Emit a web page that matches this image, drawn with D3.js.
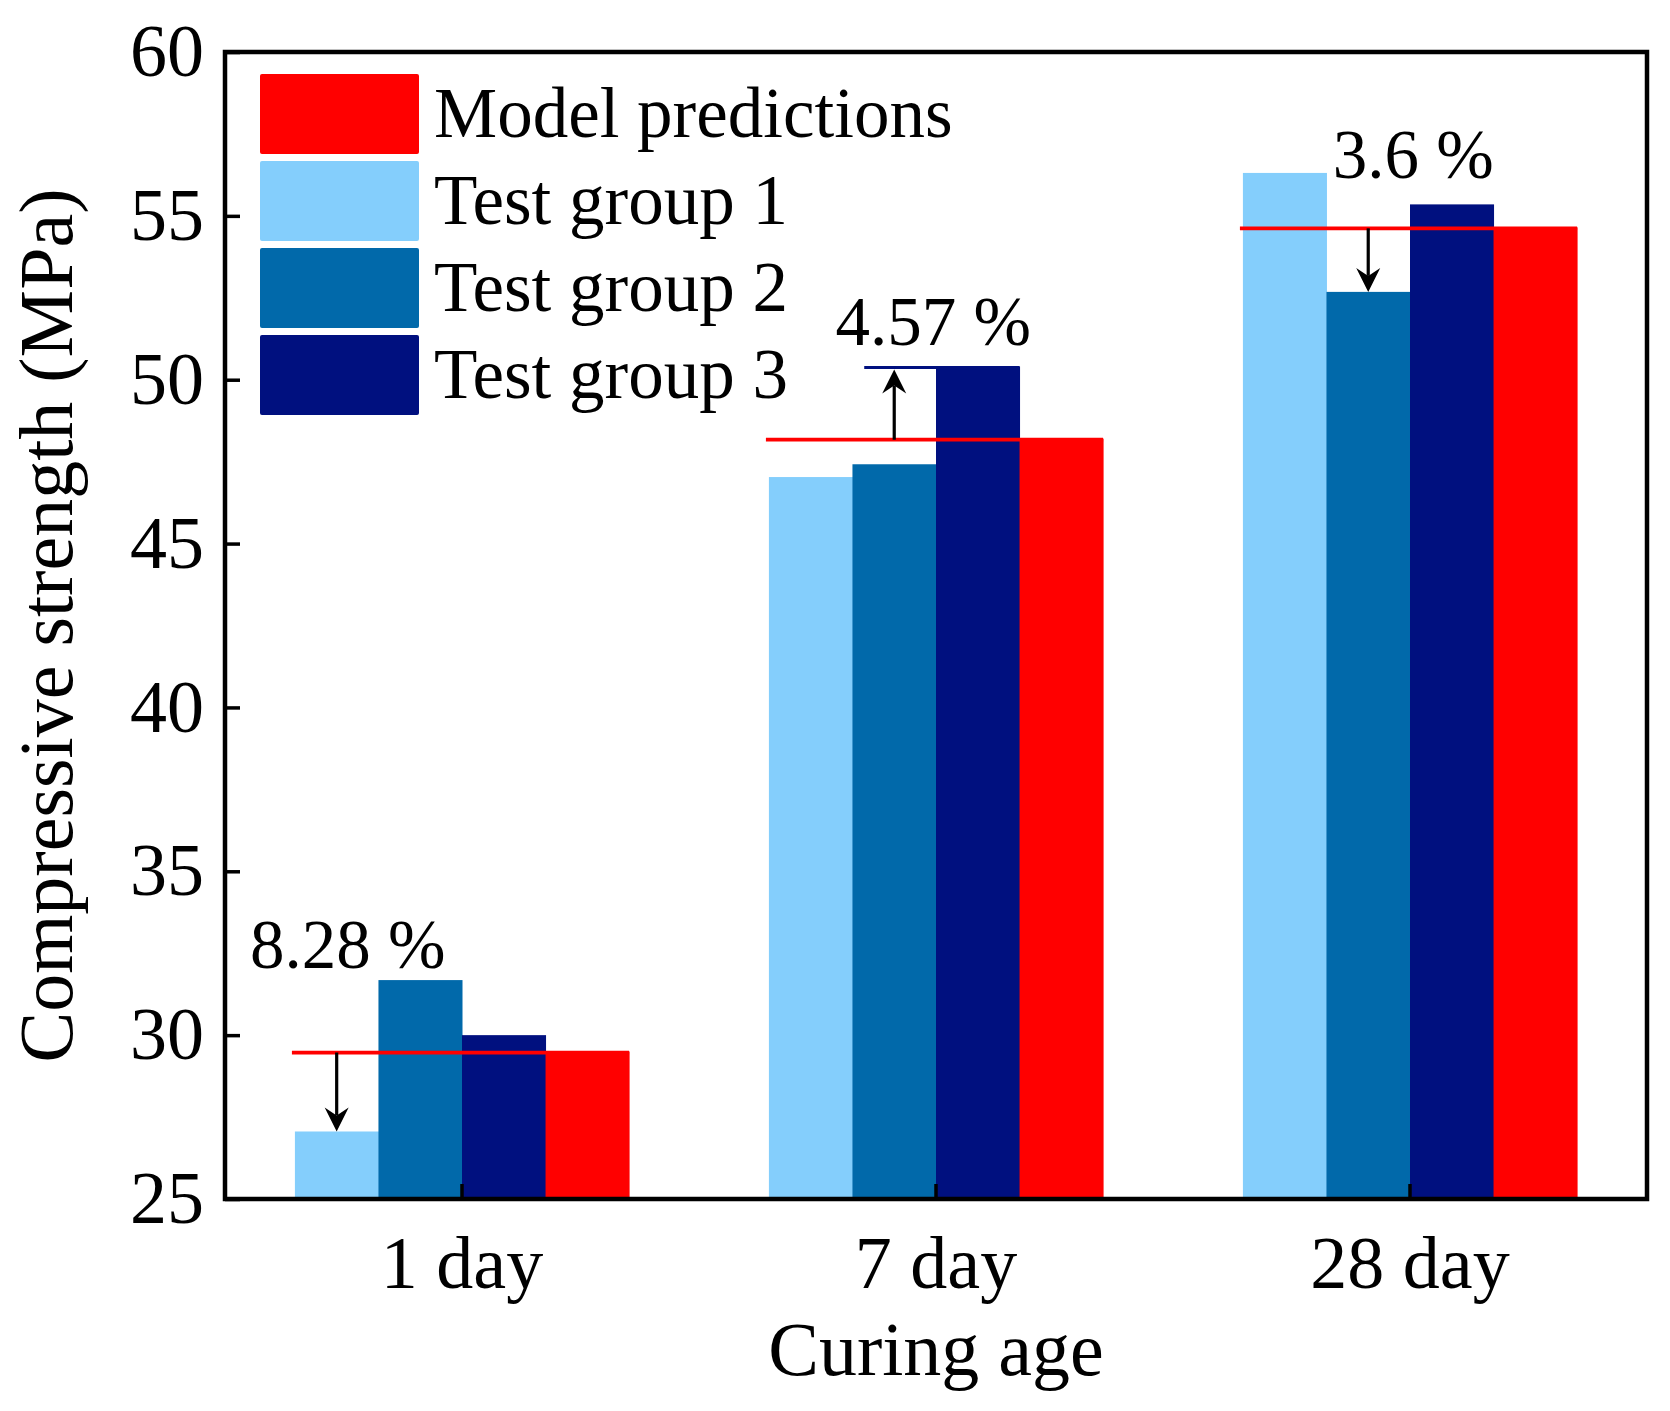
<!DOCTYPE html>
<html>
<head>
<meta charset="utf-8">
<script src="https://cdn.jsdelivr.net/npm/d3@7"></script>
<style>
  body { margin: 0; background: #fff; }
  text { font-family: 'Liberation Serif', 'Times New Roman', serif; fill: #000; }
</style>
</head>
<body>
<svg id="chart" width="1670" height="1411"></svg>
<script>
// chart values
const categories = ['1 day', '7 day', '28 day'];
const seriesNames = ['Test group 1', 'Test group 2', 'Test group 3', 'Model predictions'];
const testGroup1 = [27.06, 47.03, 56.31];
const testGroup2 = [31.68, 47.42, 52.68];
const testGroup3 = [30.0, 50.4, 55.35];
const modelPredictions = [29.5, 48.2, 54.65];
const yTicks = [25, 30, 35, 40, 45, 50, 55, 60];
const legendOrder = ['Model predictions', 'Test group 1', 'Test group 2', 'Test group 3'];
// deviation arrows: from the model value to a test group, drawn over bar "at"
const deviations = [
  { cat: '1 day', to: 'Test group 1', at: 'Test group 1', label: '8.28 %' },
  { cat: '7 day', to: 'Test group 3', at: 'Test group 2', label: '4.57 %' },
  { cat: '28 day', to: 'Test group 2', at: 'Test group 2', label: '3.6 %' }
];

const values = {
  'Test group 1': testGroup1,
  'Test group 2': testGroup2,
  'Test group 3': testGroup3,
  'Model predictions': modelPredictions
};
const color = d3.scaleOrdinal()
  .domain(seriesNames)
  .range(['#84cefc', '#0169aa', '#00107f', '#ff0000']);

const svg = d3.select('#chart');
const margin = { left: 225, right: 23, top: 52, bottom: 212 };
const W = +svg.attr('width'), H = +svg.attr('height');

const x0 = d3.scaleBand()
  .domain(categories)
  .range([margin.left, W - margin.right])
  .paddingInner(0.295)
  .paddingOuter(0.1475);
const x1 = d3.scaleBand()
  .domain(seriesNames)
  .range([0, x0.bandwidth()]);
const y = d3.scaleLinear()
  .domain([25, 60])
  .range([H - margin.bottom, margin.top]);

// bars
const groups = svg.append('g')
  .selectAll('g')
  .data(categories)
  .join('g')
  .attr('transform', d => 'translate(' + x0(d) + ',0)');

groups.selectAll('rect')
  .data((c, i) => seriesNames.map(s => ({ s: s, v: values[s][i] })))
  .join('rect')
  .attr('x', d => x1(d.s))
  .attr('y', d => y(d.v))
  .attr('width', x1.bandwidth() + 0.5)
  .attr('height', d => y(25) - y(d.v))
  .attr('fill', d => color(d.s));

// model reference lines across each group
svg.append('g')
  .selectAll('line')
  .data(categories)
  .join('line')
  .attr('x1', d => x0(d) - 3)
  .attr('x2', d => x0(d) + x0.bandwidth())
  .attr('y1', (d, i) => y(modelPredictions[i]) + 1)
  .attr('y2', (d, i) => y(modelPredictions[i]) + 1)
  .attr('stroke', '#ff0000')
  .attr('stroke-width', 3.8);

// deviation arrows and labels
const labelOffsets = [[11, -85], [39, -95], [45, -50]];
const ann = svg.append('g');
deviations.forEach(function (d, k) {
  const i = categories.indexOf(d.cat);
  const ax = x0(d.cat) + x1(d.at) + x1.bandwidth() / 2;
  const yFrom = y(modelPredictions[i]) + 1;
  const yTo = y(values[d.to][i]);
  const dir = yTo > yFrom ? 1 : -1;
  if (d.at !== d.to) {
    ann.append('line')
      .attr('x1', ax - 30)
      .attr('x2', x0(d.cat) + x1(d.to) + x1.bandwidth())
      .attr('y1', yTo + 1)
      .attr('y2', yTo + 1)
      .attr('stroke', color(d.to))
      .attr('stroke-width', 3);
  }
  const tip = yTo + dir * (d.at !== d.to ? -3 : 0);
  const hl = 24, hw = 12, notch = 16;
  ann.append('line')
    .attr('x1', ax).attr('x2', ax)
    .attr('y1', yFrom)
    .attr('y2', tip - dir * notch)
    .attr('stroke', '#000')
    .attr('stroke-width', 3.2);
  ann.append('path')
    .attr('d', 'M' + ax + ',' + tip +
      'L' + (ax - hw) + ',' + (tip - dir * hl) +
      'L' + ax + ',' + (tip - dir * notch) +
      'L' + (ax + hw) + ',' + (tip - dir * hl) + 'Z')
    .attr('fill', '#000');
  ann.append('text')
    .attr('x', ax + labelOffsets[k][0])
    .attr('y', yFrom + labelOffsets[k][1])
    .attr('text-anchor', 'middle')
    .attr('font-size', 69)
    .text(d.label);
});

// axes
const yAxis = svg.append('g')
  .attr('transform', 'translate(' + margin.left + ',0)')
  .call(d3.axisLeft(y).tickValues(yTicks).tickSize(-15).tickPadding(21));
yAxis.select('.domain').remove();
yAxis.selectAll('line').attr('stroke', '#000').attr('stroke-width', 3.5);
yAxis.selectAll('text')
  .attr('font-size', 74)
  .attr('font-family', "'Liberation Serif', 'Times New Roman', serif")
  .attr('dy', '0.32em');

const xAxis = svg.append('g')
  .attr('transform', 'translate(0,' + (H - margin.bottom) + ')')
  .call(d3.axisBottom(x0).tickSize(-15));
xAxis.select('.domain').remove();
xAxis.selectAll('line').attr('stroke', '#000').attr('stroke-width', 3.5);
xAxis.selectAll('text')
  .attr('font-size', 74)
  .attr('font-family', "'Liberation Serif', 'Times New Roman', serif")
  .attr('y', 89)
  .attr('dy', null);

// frame
svg.append('rect')
  .attr('x', margin.left)
  .attr('y', margin.top)
  .attr('width', W - margin.left - margin.right)
  .attr('height', H - margin.top - margin.bottom)
  .attr('fill', 'none')
  .attr('stroke', '#000')
  .attr('stroke-width', 4.5);

// axis titles
svg.append('text')
  .attr('x', (margin.left + W - margin.right) / 2)
  .attr('y', 1375)
  .attr('text-anchor', 'middle')
  .attr('font-size', 76)
  .text('Curing age');

svg.append('text')
  .attr('transform', 'translate(72,' + (margin.top + H - margin.bottom) / 2 + ') rotate(-90)')
  .attr('text-anchor', 'middle')
  .attr('font-size', 76)
  .text('Compressive strength (MPa)');

// legend
const legend = svg.append('g')
  .selectAll('g')
  .data(legendOrder)
  .join('g')
  .attr('transform', (d, i) => 'translate(260,' + (74 + i * 87) + ')');
legend.append('rect')
  .attr('width', 159)
  .attr('height', 80)
  .attr('rx', 2)
  .attr('fill', d => color(d));
legend.append('text')
  .attr('x', 174)
  .attr('y', 63)
  .attr('font-size', 71)
  .text(d => d);
</script>
</body>
</html>
